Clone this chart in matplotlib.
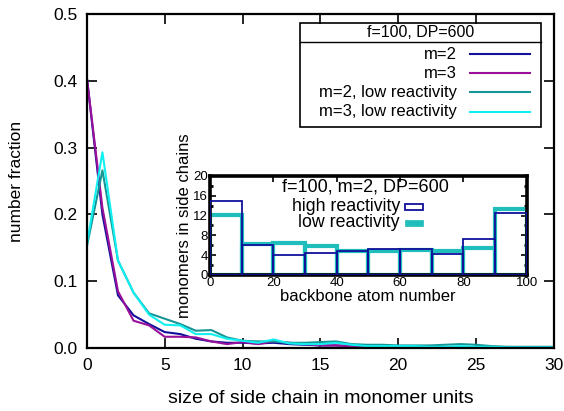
import matplotlib
matplotlib.use('Agg')
import matplotlib.pyplot as plt
from matplotlib.patches import Rectangle
from matplotlib.lines import Line2D
from matplotlib.ticker import MultipleLocator
import numpy as np

plt.rcParams['font.family'] = ['Liberation Sans', 'DejaVu Sans']

# side chain size distribution (number fraction)
size = np.arange(0, 31)
m2 = [0.405, 0.200, 0.079, 0.049, 0.036, 0.024, 0.021, 0.014, 0.010, 0.008,
      0.008, 0.007, 0.008, 0.006, 0.005, 0.004, 0.004, 0.003, 0.002, 0.002,
      0.002, 0.002, 0.002, 0.001, 0.001, 0.001, 0.001, 0.001, 0.001, 0.001, 0.001]
m3 = [0.405, 0.210, 0.085, 0.041, 0.034, 0.017, 0.017, 0.016, 0.010, 0.006,
      0.009, 0.006, 0.010, 0.008, 0.006, 0.004, 0.004, 0.003, 0.003, 0.002,
      0.002, 0.002, 0.002, 0.001, 0.001, 0.001, 0.001, 0.001, 0.001, 0.001, 0.001]
m2_low = [0.152, 0.266, 0.131, 0.083, 0.052, 0.044, 0.036, 0.026, 0.027, 0.016,
          0.011, 0.010, 0.010, 0.008, 0.008, 0.009, 0.010, 0.006, 0.005, 0.005,
          0.004, 0.004, 0.004, 0.005, 0.006, 0.005, 0.003, 0.002, 0.002, 0.002, 0.002]
m3_low = [0.155, 0.293, 0.131, 0.083, 0.050, 0.035, 0.034, 0.021, 0.021, 0.014,
          0.011, 0.008, 0.013, 0.007, 0.006, 0.006, 0.008, 0.005, 0.003, 0.003,
          0.003, 0.003, 0.002, 0.002, 0.003, 0.002, 0.002, 0.001, 0.001, 0.001, 0.001]
series_labels = ['m=2', 'm=3', 'm=2, low reactivity', 'm=3, low reactivity']
series_colors = ['#10109a', '#9a109a', '#169595', '#10f0f0']

# inset: monomers in side chains vs backbone position
bin_left = np.arange(0, 100, 10)
high_react = [14.95, 5.95, 4.05, 4.5, 4.85, 5.25, 5.25, 4.2, 7.3, 12.5]
low_react = [12.1, 6.3, 6.5, 5.85, 4.9, 4.9, 5.0, 4.85, 5.5, 13.3]
inset_colors = ['#10109a', '#20bdbd']

fig = plt.figure(figsize=(5.64, 4.11), dpi=100)
ax = fig.add_axes([0.154, 0.153, 0.828, 0.813])

for ys, c in zip([m2, m3, m2_low, m3_low], series_colors):
    ax.plot(size, ys, color=c, lw=1.5, clip_on=True)

ax.set_xlim(0, 30)
ax.set_ylim(0, 0.5)
ax.xaxis.set_major_locator(MultipleLocator(5))
ax.yaxis.set_major_locator(MultipleLocator(0.1))
ax.yaxis.set_major_formatter(matplotlib.ticker.FormatStrFormatter('%.1f'))
ax.tick_params(direction='in', length=7, width=1.2, top=True, right=True,
               labelsize=12.5, pad=7)
for s in ax.spines.values():
    s.set_linewidth(1.6)
ax.set_xlabel('size of side chain in monomer units', fontsize=14, labelpad=12)
ax.set_ylabel('number fraction', fontsize=12.5, labelpad=21)

# main legend (boxed, with title row)
lx0, lx1, ly0, ly1, lsep = 0.456, 0.972, 0.662, 0.973, 0.916
ax.add_patch(Rectangle((lx0, ly0), lx1 - lx0, ly1 - ly0, transform=ax.transAxes,
                       fill=False, lw=1.2, ec='black', zorder=5))
ax.add_line(Line2D([lx0, lx1], [lsep, lsep], transform=ax.transAxes, color='black', lw=1.0, zorder=5))
ax.text((lx0 + lx1) / 2, (ly1 + lsep) / 2, 'f=100, DP=600', transform=ax.transAxes,
        ha='center', va='center', fontsize=11.5, zorder=6)
rows = [0.880, 0.823, 0.765, 0.708]
for lab, c, yy in zip(series_labels, series_colors, rows):
    ax.text(0.793, yy, lab, transform=ax.transAxes, ha='right', va='center', fontsize=12, zorder=6)
    ax.add_line(Line2D([0.82, 0.948], [yy, yy], transform=ax.transAxes, color=c, lw=1.5, zorder=6))

# inset
ins = fig.add_axes([0.372, 0.331, 0.562, 0.241])
ins.bar(bin_left, low_react, width=10, align='edge', fill=False,
        edgecolor=inset_colors[1], lw=3, zorder=2)
ins.bar(bin_left, high_react, width=10, align='edge', fill=False,
        edgecolor=inset_colors[0], lw=1.3, zorder=3)
ins.set_xlim(0, 100)
ins.set_ylim(0, 20)
ins.xaxis.set_major_locator(MultipleLocator(20))
ins.yaxis.set_major_locator(MultipleLocator(4))
ins.yaxis.set_minor_locator(MultipleLocator(2))
ins.tick_params(which='both', direction='in', top=True, right=True, labelsize=9.5, pad=1.5)
ins.tick_params(which='major', length=4, width=1.2)
ins.tick_params(which='minor', length=2.5, width=2.0)
for s in ins.spines.values():
    s.set_linewidth(2.6)
ins.set_xlabel('backbone atom number', fontsize=12, labelpad=0)
ins.set_ylabel('monomers in side chains', fontsize=12)
ins.yaxis.set_label_coords(-0.055, 0.5)

ins.text(0.49, 0.89, 'f=100, m=2, DP=600', transform=ins.transAxes,
         ha='center', va='center', fontsize=13, zorder=6)
ins.text(0.60, 0.69, 'high reactivity', transform=ins.transAxes,
         ha='right', va='center', fontsize=12.8, zorder=6)
ins.text(0.60, 0.525, 'low reactivity', transform=ins.transAxes,
         ha='right', va='center', fontsize=12.8, zorder=6)
ins.add_patch(Rectangle((0.615, 0.66), 0.057, 0.06, transform=ins.transAxes,
                        fill=False, ec=inset_colors[0], lw=1.3, zorder=6))
ins.add_patch(Rectangle((0.615, 0.495), 0.057, 0.06, transform=ins.transAxes,
                        fc=inset_colors[1], ec=inset_colors[1], lw=0.5, zorder=6))

fig.savefig('out.png', dpi=100)
